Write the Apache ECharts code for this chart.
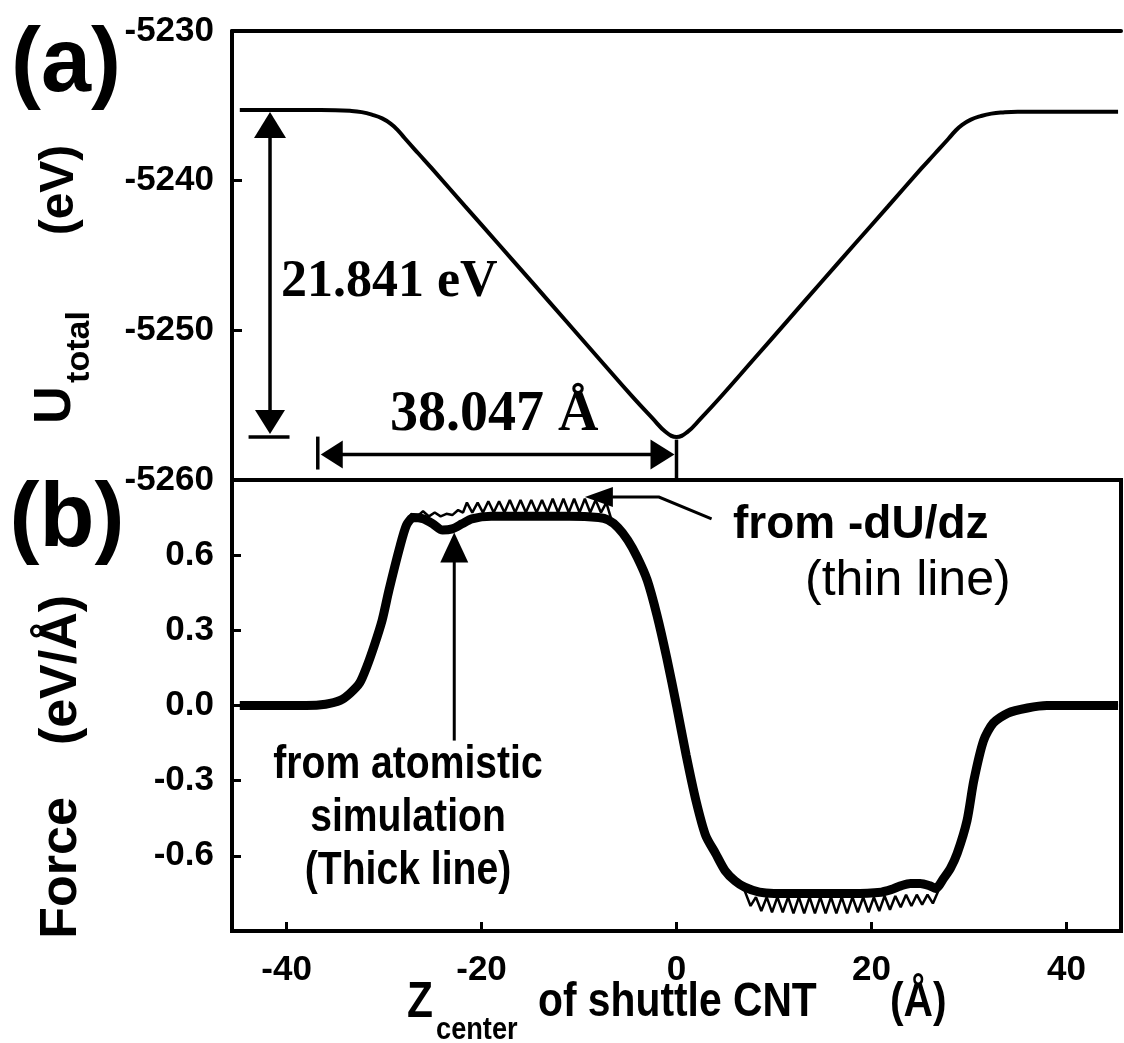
<!DOCTYPE html>
<html>
<head>
<meta charset="utf-8">
<script src="https://cdn.jsdelivr.net/npm/echarts@6.0.0/dist/echarts.min.js"></script>
<style>
html, body { margin: 0; padding: 0; background: #fff; }
#main { width: 1124px; height: 1043px; }
</style>
</head>
<body>
<div id="main"></div>
<script>
// (a) total energy vs shuttle position
var uZ   = [-44.8, -38, -35, -33.5, -32.3, -31.2, -30.2, -29.3, -28.6, -27.9, -26.5, -25.1, -21.7, -18.2, -14.8, -11.4, -7.9, -4.5, -2.5, -1.1, 0,
            1.1, 2.5, 4.5, 7.9, 11.4, 14.8, 18.2, 21.7, 25.1, 26.5, 27.9, 28.6, 29.3, 30.2, 31.2, 32.3, 33.5, 35, 38, 45.3];
var uVal = [-5235.28, -5235.28, -5235.29, -5235.33, -5235.42, -5235.6, -5235.84, -5236.2, -5236.62, -5237.15, -5238.17, -5239.18, -5241.7, -5244.28, -5246.8, -5249.33, -5251.93, -5254.45, -5255.85, -5256.79, -5257.12,
            -5256.8, -5255.88, -5254.47, -5251.95, -5249.35, -5246.82, -5244.3, -5241.72, -5239.2, -5238.2, -5237.2, -5236.68, -5236.27, -5235.92, -5235.69, -5235.52, -5235.44, -5235.4, -5235.4, -5235.4];

// (b) force from atomistic simulation (thick line)
var thickZ = [-44.8, -38, -36, -34.5, -33.5, -32.5, -31.8, -31, -30.2, -29.5, -28.4, -27.7, -27, -26, -25, -24, -23, -22, -21, -19, -15, -11, -8, -7, -6, -5, -4, -3, -2, -1, 0,
              1, 2, 3, 4, 5, 6, 7, 8.5, 10, 14, 18, 21, 22, 23, 24, 25, 26, 26.6, 27.4, 28.1, 28.8, 29.8, 30.5, 31.5, 32.5, 34, 36, 38, 45.3];
var thickF = [0, 0, 0.005, 0.02, 0.048, 0.09, 0.152, 0.24, 0.34, 0.46, 0.63, 0.72, 0.75, 0.745, 0.725, 0.70, 0.705, 0.725, 0.745, 0.755, 0.755, 0.755, 0.75, 0.74, 0.71, 0.66, 0.59, 0.50, 0.36, 0.19, 0,
              -0.20, -0.38, -0.52, -0.59, -0.66, -0.70, -0.725, -0.745, -0.75, -0.75, -0.75, -0.745, -0.735, -0.72, -0.71, -0.71, -0.72, -0.73, -0.69, -0.65, -0.59, -0.46, -0.30, -0.14, -0.07, -0.03, -0.01, 0, 0];

// (b) force from -dU/dz (thin line)
var thinZ = [-44.8, -38, -36, -34.5, -33.5, -32.5, -31.8, -31, -30.2, -29.5, -28.4, -27.7, -27.2,
             -26.6, -26.0, -25.4, -24.8, -24.2, -23.6, -23.0, -22.4, -21.9,
             -21.5, -20.95, -20.4, -19.85, -19.3, -18.75, -18.2, -17.65, -17.1, -16.55, -16.0, -15.45, -14.9, -14.35,
             -13.8, -13.25, -12.7, -12.15, -11.6, -11.05, -10.5, -9.95, -9.4, -8.85, -8.3, -7.75, -7.2,
             -6.7, -6.1, -5.5, -5.0, -4.4, -4.0, -3, -2, -1, 0, 1, 2, 3, 4, 4.6, 5.1, 5.7, 6.3, 6.9,
             7.6, 8.15, 8.7, 9.25, 9.8, 10.35, 10.9, 11.45, 12.0, 12.55, 13.1, 13.65, 14.2, 14.75, 15.3, 15.85, 16.4, 16.95,
             17.5, 18.05, 18.6, 19.15, 19.7, 20.25, 20.8, 21.35, 21.9, 22.45, 23.0, 23.55, 24.1, 24.65, 25.2, 25.75, 26.3,
             26.8, 27.4, 28.1, 28.8, 29.8, 30.5, 31.5, 32.5, 34, 36, 38, 45.3];
var thinF = [0, 0, 0.005, 0.02, 0.048, 0.09, 0.152, 0.24, 0.34, 0.47, 0.63, 0.73, 0.765,
             0.755, 0.775, 0.755, 0.77, 0.755, 0.765, 0.76, 0.78, 0.77,
             0.81, 0.77, 0.81, 0.77, 0.815, 0.77, 0.815, 0.77, 0.82, 0.77, 0.82, 0.77, 0.82, 0.77,
             0.82, 0.77, 0.825, 0.77, 0.825, 0.77, 0.825, 0.77, 0.825, 0.77, 0.82, 0.77, 0.81,
             0.745, 0.725, 0.685, 0.675, 0.625, 0.59, 0.50, 0.36, 0.19, 0, -0.20, -0.38, -0.52, -0.59, -0.64, -0.67, -0.69, -0.72, -0.73,
             -0.80, -0.765, -0.82, -0.765, -0.825, -0.765, -0.825, -0.765, -0.83, -0.765, -0.83, -0.765, -0.83, -0.765, -0.83, -0.765, -0.83, -0.765,
             -0.83, -0.765, -0.825, -0.765, -0.825, -0.765, -0.82, -0.76, -0.815, -0.76, -0.805, -0.755, -0.80, -0.755, -0.795, -0.755, -0.79,
             -0.745, -0.69, -0.65, -0.59, -0.46, -0.30, -0.14, -0.07, -0.03, -0.01, 0, 0];

var xTicks = [-40, -20, 0, 20, 40];
var fTicks = [-0.6, -0.3, 0, 0.3, 0.6];

// annotation anchors (data coordinates)
var uTop = -5235.28, uMin = -5257.12;
var vArrowZ = -41.7;
var hArrowZ0 = -36.8, hArrowU = -5258.3;
var simArrowZ = -22.8;

function zip(a, b) {
    return a.map(function (v, i) { return [v, b[i]]; });
}

var SANS = '"Liberation Sans", Arial, sans-serif';
var SERIF = '"Liberation Serif", "Times New Roman", serif';

var dom = document.getElementById('main');
var myChart = echarts.init(dom, null, {renderer: 'canvas'});

var tickLabel = {
    color: '#000',
    fontSize: 35,
    fontWeight: 'bold',
    fontFamily: SANS
};
var frame = {show: true, onZero: false, lineStyle: {color: '#000', width: 4}};

var option = {
    animation: false,
    backgroundColor: '#fff',
    grid: [
        {left: 232, top: 31, width: 889, height: 449, show: false},
        {left: 232, top: 480, width: 889, height: 451, show: true, borderColor: '#000', borderWidth: 4}
    ],
    xAxis: [
        {
            type: 'value', gridIndex: 0, min: -45.6, max: 45.6,
            axisLine: frame, axisTick: {show: false}, axisLabel: {show: false}, splitLine: {show: false}
        },
        {
            type: 'value', gridIndex: 1, min: -45.6, max: 45.6,
            axisLine: {show: false, onZero: false},
            axisTick: {show: true, inside: true, length: 9, customValues: xTicks, lineStyle: {color: '#000', width: 3}},
            axisLabel: Object.assign({customValues: xTicks, margin: 22}, tickLabel),
            splitLine: {show: false}
        },
        {
            type: 'value', gridIndex: 0, position: 'top', min: -45.6, max: 45.6,
            axisLine: frame, axisTick: {show: false}, axisLabel: {show: false}, splitLine: {show: false}
        }
    ],
    yAxis: [
        {
            type: 'value', gridIndex: 0, min: -5260, max: -5230, interval: 10,
            axisLine: frame,
            axisTick: {show: true, inside: true, length: 10, lineStyle: {color: '#000', width: 3}},
            axisLabel: Object.assign({margin: 18, formatter: function (v) { return String(v); }}, tickLabel),
            splitLine: {show: false}
        },
        {
            type: 'value', gridIndex: 1, min: -0.9, max: 0.9,
            axisLine: {show: false, onZero: false},
            axisTick: {show: true, inside: true, length: 9, customValues: fTicks, lineStyle: {color: '#000', width: 3}},
            axisLabel: Object.assign({margin: 18, customValues: fTicks, formatter: function (v) { return v.toFixed(1); }}, tickLabel),
            splitLine: {show: false}
        }
    ],
    series: [
        {
            name: 'U', type: 'line', xAxisIndex: 0, yAxisIndex: 0,
            data: zip(uZ, uVal), showSymbol: false, smooth: 0.45,
            lineStyle: {color: '#000', width: 4}
        },
        {
            name: 'atomistic', type: 'line', xAxisIndex: 1, yAxisIndex: 1,
            data: zip(thickZ, thickF), showSymbol: false, smooth: 0.25,
            lineStyle: {color: '#000', width: 9}
        },
        {
            name: '-dU/dz', type: 'line', xAxisIndex: 1, yAxisIndex: 1,
            data: zip(thinZ, thinF), showSymbol: false, smooth: false,
            lineStyle: {color: '#000', width: 2.5}
        }
    ]
};
myChart.setOption(option, true);

// annotations ------------------------------------------------------------
function P(gi, z, v) { return myChart.convertToPixel({gridIndex: gi}, [z, v]); }

function seg(a, b, w) {
    return {type: 'line', shape: {x1: a[0], y1: a[1], x2: b[0], y2: b[1]},
            style: {stroke: '#000', lineWidth: w || 3.5}, z: 20};
}
function head(tip, dx, dy, len, half) {
    var bx = tip[0] - dx * len, by = tip[1] - dy * len;
    return {type: 'polygon', z: 20,
            shape: {points: [tip, [bx - dy * half, by + dx * half], [bx + dy * half, by - dx * half]]},
            style: {fill: '#000'}};
}
function txt(x, y, s, size, opt) {
    opt = opt || {};
    return {type: 'text', x: x, y: y, rotation: opt.rot || 0, scaleX: opt.sx || 1, z: 30,
            style: {text: s, fill: '#000', fontSize: size, fontWeight: opt.weight || 'bold',
                    fontFamily: opt.family || SANS, align: opt.align || 'left', verticalAlign: 'middle'}};
}

var g = [];
// vertical arrow: 21.841 eV
var vt = P(0, vArrowZ, uTop), vb = P(0, vArrowZ, uMin);
g.push(seg([vt[0], vt[1] + 20], [vb[0], vb[1] - 20]));
g.push(head([vt[0], vt[1] + 2], 0, -1, 26, 16));
g.push(head([vb[0], vb[1] - 3], 0, 1, 24, 15));
g.push(seg(P(0, -43.9, uMin), P(0, -39.7, uMin)));
// horizontal arrow: 38.047 A
var hl = P(0, hArrowZ0, hArrowU), hr = P(0, 0, hArrowU);
g.push(seg([hl[0] + 15, hl[1]], [hr[0] - 15, hr[1]]));
g.push(head([hl[0] + 3, hl[1]], -1, 0, 22, 14));
g.push(head([hr[0] - 2, hr[1]], 1, 0, 24, 15));
g.push(seg(P(0, hArrowZ0, -5257.1), P(0, hArrowZ0, -5259.3)));
g.push(seg(P(0, 0, -5257.3), P(0, 0, -5260)));
// arrow from "from atomistic simulation"
var sb = P(1, simArrowZ, -0.14), st = P(1, simArrowZ, 0.69);
g.push(seg(sb, [st[0], st[1] + 20], 3));
g.push(head(st, 0, -1, 30, 14));
// pointer from "from -dU/dz"
var p1 = P(1, 3.6, 0.745), p2 = P(1, -1.8, 0.832), p3 = P(1, -6.6, 0.832), p4 = P(1, -9.4, 0.832);
g.push({type: 'polyline', z: 20, shape: {points: [p1, p2, p3]}, style: {stroke: '#000', lineWidth: 3, fill: null}});
g.push(head(p4, -1, 0, 28, 10));

// panel labels and texts
g.push(txt(66, 66, '(a)', 90, {align: 'center'}));
g.push(txt(67, 521, '(b)', 90, {align: 'center'}));
g.push(txt(281, 283, '21.841 eV', 52, {family: SERIF}));
g.push(txt(390, 416, '38.047 \u00C5', 56, {family: SERIF}));
g.push(txt(733, 525, 'from -dU/dz', 46));
g.push(txt(805, 581, '(thin line)', 50, {weight: 'normal'}));
g.push(txt(408, 765, 'from atomistic', 46, {align: 'center', sx: 0.85}));
g.push(txt(408, 818, 'simulation', 46, {align: 'center', sx: 0.85}));
g.push(txt(408, 871, '(Thick line)', 46, {align: 'center', sx: 0.85}));
// axis titles
g.push(txt(60, 190, '(eV)', 48, {align: 'center', rot: Math.PI / 2}));
g.push(txt(56, 405, 'U', 52, {align: 'center', rot: Math.PI / 2}));
g.push(txt(80, 347, 'total', 34, {align: 'center', rot: Math.PI / 2}));
g.push(txt(62, 670, '(eV/\u00C5)', 52, {align: 'center', rot: Math.PI / 2}));
g.push(txt(62, 868, 'Force', 52, {align: 'center', rot: Math.PI / 2}));
g.push(txt(407, 1003, 'Z', 50, {sx: 0.85}));
g.push(txt(436, 1030, 'center', 32, {sx: 0.85}));
g.push(txt(538, 1003, 'of shuttle CNT', 48, {sx: 0.85}));
g.push(txt(890, 1003, '(\u00C5)', 48, {sx: 0.85}));

myChart.setOption({graphic: g});
</script>
</body>
</html>
